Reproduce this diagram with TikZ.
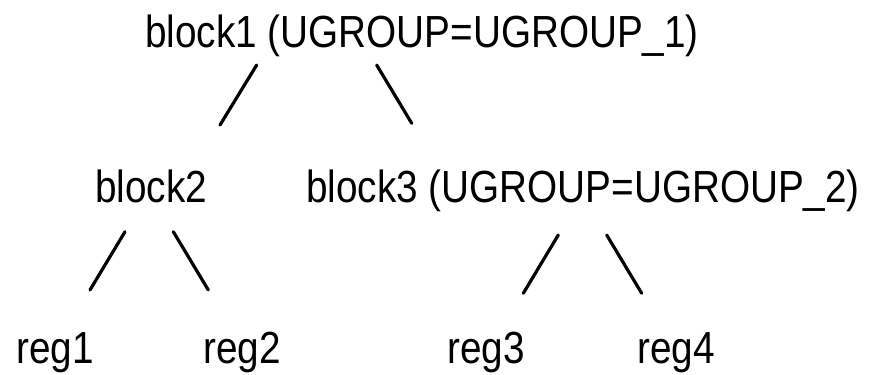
\documentclass[tikz,border=0pt]{standalone}
\usepackage{fontspec}
\setmainfont{Liberation Sans}[FakeStretch=0.86]
\begin{document}
\begin{tikzpicture}[x=1pt,y=-1pt,
  lbl/.style={anchor=base west,inner sep=0pt,font=\fontsize{45}{50}\selectfont},
  edge/.style={line width=3.2pt,line cap=round}]
\useasboundingbox[fill=white] (0,0) rectangle (871,375);
\node[lbl] (b1) at (145,47) {block1 (UGROUP=UGROUP\_1)};
\node[lbl] (b2) at (95,202) {block2};
\node[lbl] (b3) at (306,202) {block3 (UGROUP=UGROUP\_2)};
\node[lbl] (r1) at (16,363) {reg1};
\node[lbl] (r2) at (203,363) {reg2};
\node[lbl] (r3) at (447,363) {reg3};
\node[lbl] (r4) at (637,363) {reg4};
\coordinate (e1a) at (256.7,65);  \coordinate (e1b) at (220,125);
\coordinate (e2a) at (376.7,65);  \coordinate (e2b) at (411.7,123.3);
\coordinate (e3a) at (125,231.7); \coordinate (e3b) at (90,290);
\coordinate (e4a) at (173.3,231.7); \coordinate (e4b) at (208.3,290);
\coordinate (e5a) at (558.3,235); \coordinate (e5b) at (523.3,293.3);
\coordinate (e6a) at (606.7,235); \coordinate (e6b) at (641.7,293.3);
\draw[edge] (e1a) -- (e1b);
\draw[edge] (e2a) -- (e2b);
\draw[edge] (e3a) -- (e3b);
\draw[edge] (e4a) -- (e4b);
\draw[edge] (e5a) -- (e5b);
\draw[edge] (e6a) -- (e6b);
\end{tikzpicture}
\end{document}
